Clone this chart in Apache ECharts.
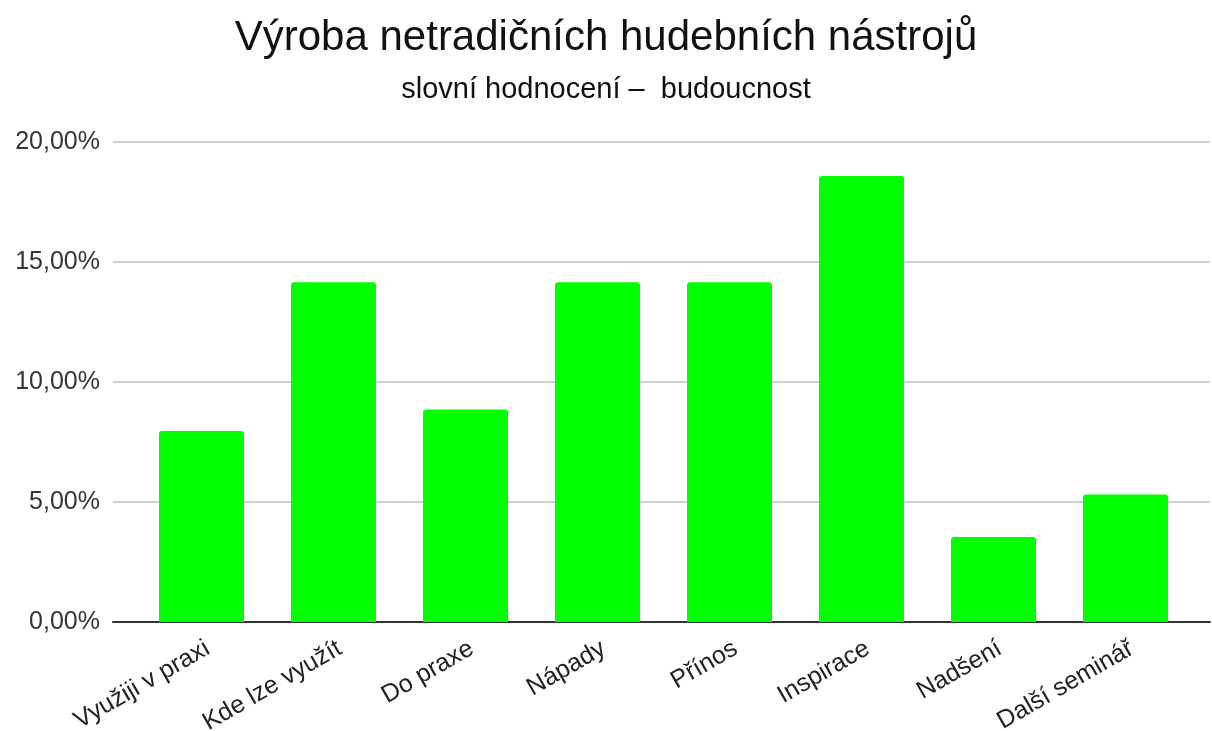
<!DOCTYPE html>
<html>
<head>
<meta charset="utf-8">
<script src="https://cdn.jsdelivr.net/npm/echarts@6/dist/echarts.min.js"></script>
<style>
  html, body { margin: 0; padding: 0; background: #fff; }
  #chart { width: 1212px; height: 731px; }
</style>
</head>
<body>
<div id="chart"></div>
<script>
const categories = ["Využiji v praxi", "Kde lze využít", "Do praxe", "Nápady", "Přínos", "Inspirace", "Nadšení", "Další seminář"];
const values = [0.0796, 0.1416, 0.0885, 0.1416, 0.1416, 0.1858, 0.0354, 0.0531];
const yTicks = [0, 0.05, 0.1, 0.15, 0.2];

const fmt = v => (v * 100).toFixed(2).replace(".", ",") + "%";
const font = "Arial, 'Liberation Sans', sans-serif";

let myChart = echarts.init(document.getElementById("chart"));
myChart.setOption({
  backgroundColor: "#fff",
  animation: false,
  textStyle: { fontFamily: font },
  title: {
    text: "Výroba netradičních hudebních nástrojů",
    subtext: "slovní hodnocení –  budoucnost",
    left: "center",
    top: 12,
    itemGap: 16,
    textStyle: { fontSize: 42, fontWeight: "normal", color: "#111", fontFamily: font },
    subtextStyle: { fontSize: 29, color: "#111", fontFamily: font }
  },
  grid: [
    // background grid: gridlines + baseline span the full width
    { left: 113, right: 2, top: 142, bottom: 109, outerBoundsMode: "none" },
    // bars
    { left: 135.5, right: 20.5, top: 142, bottom: 109, outerBoundsMode: "none" }
  ],
  xAxis: [
    {
      gridIndex: 0,
      type: "category",
      data: categories,
      axisLine: { show: true, lineStyle: { color: "#333", width: 2 } },
      axisTick: { show: false },
      axisLabel: { show: false }
    },
    {
      gridIndex: 1,
      type: "category",
      data: categories,
      axisLine: { show: false },
      axisTick: { show: false },
      axisLabel: {
        interval: 0,
        rotate: 30,
        margin: 14,
        verticalAlign: "top",
        fontSize: 25,
        color: "#222"
      }
    }
  ],
  yAxis: [
    {
      gridIndex: 0,
      type: "value",
      min: yTicks[0],
      max: yTicks[yTicks.length - 1],
      interval: 0.05,
      axisLine: { show: false },
      axisTick: { show: false },
      axisLabel: { formatter: fmt, fontSize: 25, color: "#333", margin: 13 },
      splitLine: { show: true, lineStyle: { color: "#d0d0d0", width: 2 } }
    },
    {
      gridIndex: 1,
      type: "value",
      min: yTicks[0],
      max: yTicks[yTicks.length - 1],
      interval: 0.05,
      show: false,
      splitLine: { show: false }
    }
  ],
  series: [
    {
      type: "bar",
      xAxisIndex: 1,
      yAxisIndex: 1,
      data: values,
      barWidth: 85,
      itemStyle: { color: "#00ff00", borderRadius: [3, 3, 0, 0] }
    }
  ]
});
</script>
</body>
</html>
